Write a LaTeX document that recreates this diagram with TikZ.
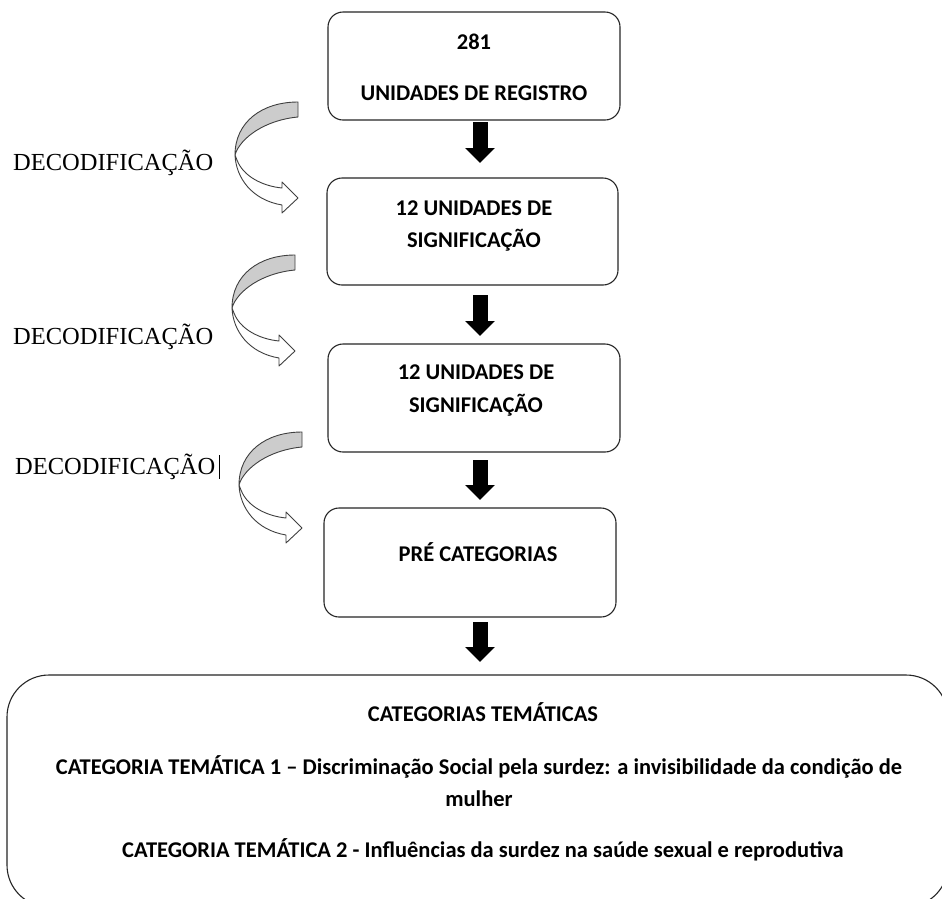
\documentclass[tikz,border=0pt]{standalone}
\usepackage{fontspec}
\newfontfamily\calib{Carlito}
\newfontfamily\tms{Liberation Serif}
\usetikzlibrary{arrows.meta,calc}
\begin{document}
\begin{tikzpicture}[x=1pt,y=-1pt,
  box/.style={draw=black!85, line width=1.1pt, rounded corners=15pt, inner sep=0pt},
  lbl/.style={font=\calib\bfseries\fontsize{22.5}{32}\selectfont, inner sep=0pt, align=center},
  deco/.style={font=\tms\fontsize{24.5}{26}\selectfont, inner sep=0pt, anchor=west},
  blockarr/.style={line width=15pt, -{Triangle[width=29pt,length=15pt]}, black},
  curv/.style={draw=black!75, line width=0.9pt, line join=round},
  curvedarrow/.pic={
    \filldraw[curv, fill=gray!40] (298,102) .. controls (262,102) and (235,122) .. (235,155)
      .. controls (240,138) and (265,120) .. (298,117) -- cycle;
    \filldraw[curv, fill=white] (235,155) .. controls (236,178) and (252,200) .. (282,205)
      -- (282,213) -- (298,198) -- (282,182) -- (282,188)
      .. controls (262,186) and (243,176) .. (237,160) -- cycle;
  }]
\useasboundingbox (0,0) rectangle (942,898);
\clip (0,0) rectangle (942,898);
\fill[white] (0,0) rectangle (942,898);

% boxes
\node[box, minimum width=292pt, minimum height=108pt] (b1) at (474,66) {};
\node[box, minimum width=291pt, minimum height=107pt] (b2) at (472.5,231.5) {};
\node[box, minimum width=292pt, minimum height=108pt] (b3) at (474,398) {};
\node[box, minimum width=292pt, minimum height=109pt] (b4) at (470,562.5) {};
\node[draw=black!85, line width=1.1pt, rounded corners=42pt, inner sep=0pt,
      minimum width=941pt, minimum height=232pt] (cat) at (477.5,791) {};

% box texts
\node[lbl] (t1a) at (474,42) {281};
\node[lbl] (t1b) at (474,93) {UNIDADES DE REGISTRO};
\node[lbl] (t2a) at (474,208) {12 UNIDADES DE};
\node[lbl] (t2b) at (474,240) {SIGNIFICAÇÃO};
\node[lbl] (t3a) at (476,372) {12 UNIDADES DE};
\node[lbl] (t3b) at (476,405) {SIGNIFICAÇÃO};
\node[lbl] (t4) at (478,552) {PRÉ CATEGORIAS};

\node[lbl] (c0) at (483,712) {CATEGORIAS TEMÁTICAS};
\node[lbl] (c1) at (479,781) {CATEGORIA TEMÁTICA 1 – Discriminação Social pela surdez: a invisibilidade da condição de\\mulher};
\node[lbl] (c2) at (483,850) {CATEGORIA TEMÁTICA 2 - Influências da surdez na saúde sexual e reprodutiva};

% block arrows (free ends as named coordinates between the boxes)
\coordinate (a1s) at (480,122); \coordinate (a1e) at (480,163);
\coordinate (a2s) at (480,295); \coordinate (a2e) at (480,336);
\coordinate (a3s) at (480,460); \coordinate (a3e) at (480,500);
\coordinate (a4s) at (480,622); \coordinate (a4e) at (480,662);
\draw[blockarr] (a1s) -- (a1e);
\draw[blockarr] (a2s) -- (a2e);
\draw[blockarr] (a3s) -- (a3e);
\draw[blockarr] (a4s) -- (a4e);

% curved arrows
\pic at (0,0) {curvedarrow};
\pic at (-3,153) {curvedarrow};
\pic at (4,330) {curvedarrow};

% labels
\node[deco] (d1) at (13,163) {DECODIFICAÇÃO};
\node[deco] (d2) at (13,337) {DECODIFICAÇÃO};
\node[deco] (d3) at (15,467) {DECODIFICAÇÃO};
\draw[line width=0.8pt] (219,455) -- (219,479);
\end{tikzpicture}
\end{document}
